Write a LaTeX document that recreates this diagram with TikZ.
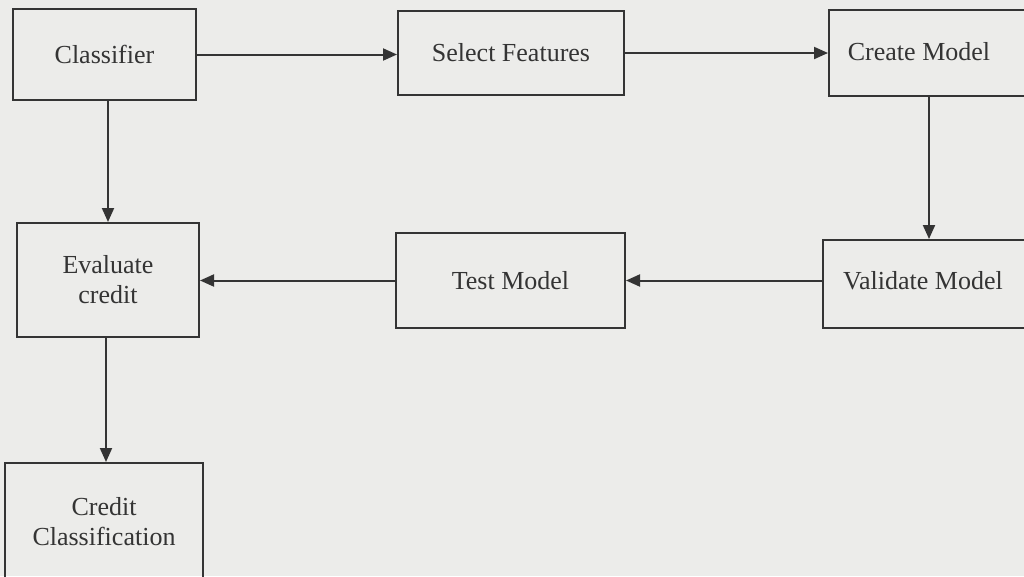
\documentclass[tikz,border=0pt]{standalone}
\usepackage{fontspec}
\setmainfont{Liberation Serif}
\usetikzlibrary{arrows.meta}
\definecolor{paper}{RGB}{236,236,234}
\definecolor{ink}{RGB}{52,52,52}
\begin{document}
\begin{tikzpicture}[x=1pt,y=-1pt,
  box/.style={draw=ink, line width=2pt, rectangle, inner sep=0pt},
  lbl/.style={text=ink, font=\fontsize{26}{30}\selectfont, align=center, inner sep=0pt},
  flow/.style={draw=ink, line width=2pt, -{Triangle[length=14pt,width=12pt]}}]

% page
\fill[paper] (0,0) rectangle (1024,576);
\useasboundingbox (0,0) rectangle (1024,576);
\clip (0,0) rectangle (1024,576);

% top row
\node[box, lbl, minimum width=183pt, minimum height=91pt] (cls) at (104.5,54.5) {Classifier};
\node[box, lbl, minimum width=226pt, minimum height=84pt] (sel) at (511,53) {Select Features};
\node[box, minimum width=220pt, minimum height=86pt, anchor=north west] (crt) at (828,9) {};
\node[lbl] (crtt) at (919,52) {Create Model};

% middle row
\node[box, lbl, minimum width=182pt, minimum height=114pt] (eva) at (108,280) {Evaluate\\credit};
\node[box, lbl, minimum width=229pt, minimum height=95pt] (tst) at (510.5,280.5) {Test Model};
\node[box, minimum width=220pt, minimum height=88pt, anchor=north west] (val) at (822,239) {};
\node[lbl] (valt) at (923,281) {Validate Model};

% bottom
\node[box, lbl, minimum width=198pt, minimum height=118pt] (cc) at (104,522) {Credit\\Classification};

% connectors
\draw[flow] (cls.east) -- (cls.east -| sel.west);
\draw[flow] (sel.east) -- (sel.east -| crt.west);
\draw[flow] ([xshift=101pt]crt.south west) -- ([xshift=107pt]val.north west);
\draw[flow] (val.west |- tst.east) -- (tst.east);
\draw[flow] (tst.west) -- (tst.west -| eva.east);
\draw[flow] (cls.south -| eva.north) -- (eva.north);
\draw[flow] ([xshift=-2pt]eva.south) -- ([xshift=-2pt]eva.south |- cc.north);
\end{tikzpicture}
\end{document}
